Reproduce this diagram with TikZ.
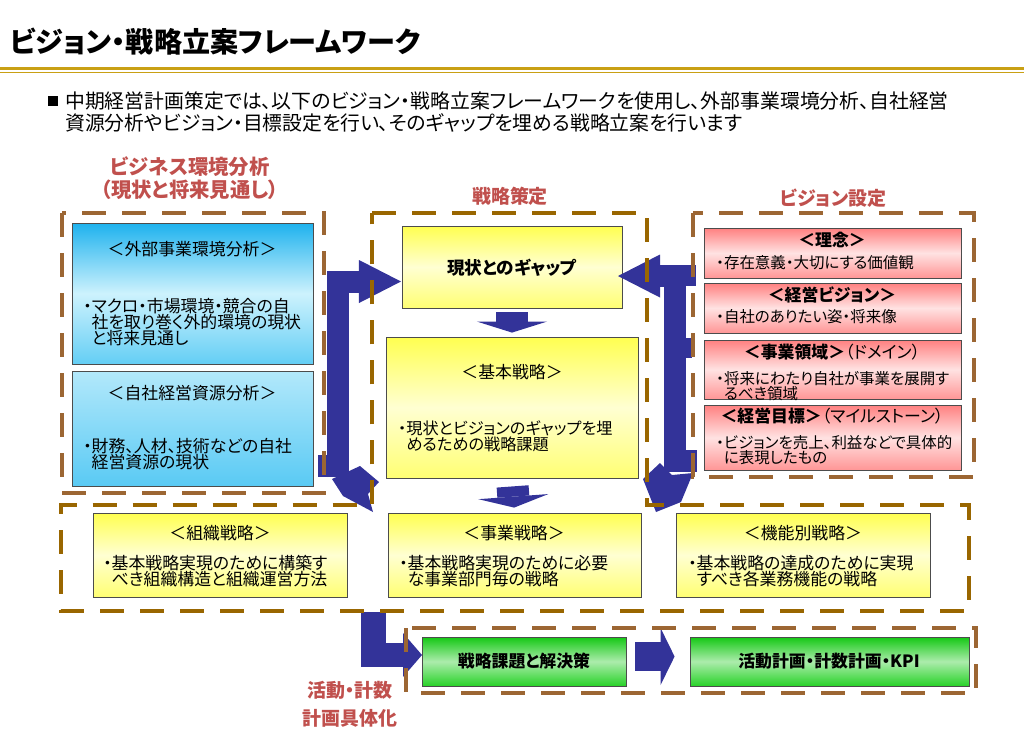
\documentclass[tikz,border=0pt]{standalone}
\usepackage{fontspec}
\setmainfont{Noto Sans CJK JP}[RawFeature=+palt]
\usetikzlibrary{arrows.meta, fit}

\definecolor{arrowblue}{RGB}{51,51,153}
\definecolor{goldline}{RGB}{201,160,20}
\definecolor{lightbrown}{RGB}{156,102,51}
\definecolor{darkbrown}{RGB}{153,102,0}
\definecolor{labelred}{RGB}{192,80,77}
\definecolor{blueA}{RGB}{30,178,238}
\definecolor{blueB}{RGB}{205,242,253}
\definecolor{blueC}{RGB}{100,206,245}
\definecolor{yellowA}{RGB}{255,255,80}
\definecolor{yellowB}{RGB}{255,255,210}
\definecolor{yellowC}{RGB}{255,255,115}
\definecolor{pinkA}{RGB}{255,128,128}
\definecolor{pinkB}{RGB}{255,226,226}
\definecolor{pinkC}{RGB}{255,150,150}
\definecolor{greenA}{RGB}{20,200,20}
\definecolor{greenB}{RGB}{172,236,172}
\definecolor{greenC}{RGB}{40,210,40}

\newcommand{\bulind}{\phantom{・}}

\begin{document}
\begin{tikzpicture}[x=0.025cm, y=-0.025cm,
	box/.style={draw=black!70, line width=0.6pt, inner sep=0pt},
	bluebox/.style={box, top color=blueA, bottom color=blueC, middle color=blueB},
	yellowbox/.style={box, top color=yellowA, bottom color=yellowC, middle color=yellowB},
	pinkbox/.style={box, top color=pinkA, bottom color=pinkC, middle color=pinkB},
	greenbox/.style={box, top color=greenA, bottom color=greenC, middle color=greenB},
	region/.style={line width=2.8pt, dash pattern=on 0.6cm off 0.4cm},
	redlabel/.style={text=labelred, align=center, inner sep=0pt, font=\fontsize{13.5}{16.4}\selectfont\bfseries},
	boxtitle/.style={inner sep=0pt, font=\fontsize{12}{14}\selectfont},
	boldtitle/.style={inner sep=0pt, font=\fontsize{12}{14}\selectfont\bfseries},
	bodytext/.style={anchor=north west, align=left, inner sep=0pt, font=\fontsize{12}{11.4}\selectfont},
	smalltext/.style={anchor=north west, align=left, inner sep=0pt, font=\fontsize{11}{10.6}\selectfont},
	bigarrow/.style={draw=arrowblue, line width=0.55cm, -{Triangle[length=1.05cm, width=1.075cm, line width=0pt]}},
	downarrow/.style={draw=arrowblue, line width=0.8cm, -{Triangle[length=0.275cm, width=1.75cm, line width=0pt]}},
	]
	\useasboundingbox (0,0) rectangle (1024,739);
	
	%header
	\node[anchor=west, inner sep=0pt, font=\fontsize{20}{24}\selectfont\bfseries] (title) at (10,42) {ビジョン・戦略立案フレームワーク};
	\draw[goldline, line width=2.8pt] (0,68.5) -- (1024,68.5);
	\draw[goldline, line width=1.1pt] (0,72.6) -- (1024,72.6);
	\fill (48,96) rectangle (58,106);
	\node[anchor=north west, align=left, inner sep=0pt, font=\fontsize{14.1}{15.6}\selectfont] (intro) at (65,91.5)
		{中期経営計画策定では、以下のビジョン・戦略立案フレームワークを使用し、外部事業環境分析、自社経営\\資源分析やビジョン・目標設定を行い、そのギャップを埋める戦略立案を行います};
	
	%boxes
	\node[bluebox, fit={(72,223) (313,364)}] (ext) {};
	\node[box, top color=blueB!85!blueA, bottom color=blueC!85!blueA, fit={(72,371) (313,486)}] (own) {};
	\node[yellowbox, fit={(402,226) (622,308)}] (gap) {};
	\node[yellowbox, fit={(386,337) (638,478)}] (base) {};
	\node[pinkbox, fit={(704,228) (961,278)}] (idea) {};
	\node[pinkbox, fit={(704,283) (961,333)}] (vision) {};
	\node[pinkbox, fit={(704,340) (961,399)}] (domain) {};
	\node[pinkbox, fit={(704,405) (961,470)}] (goal) {};
	\node[yellowbox, fit={(93,513) (347,597)}] (org) {};
	\node[yellowbox, fit={(388,513) (641,597)}] (biz) {};
	\node[yellowbox, fit={(676,513) (930,597)}] (func) {};
	\node[greenbox, fit={(422,637) (626,686)}] (task) {};
	\node[greenbox, fit={(690,637) (969,686)}] (plan) {};
	
	%arrows
	\coordinate (lbot) at (338,477);
	\coordinate (ltip) at (401,281.5);
	\coordinate (rbot) at (674.5,472);
	\coordinate (rtip) at (618,276);
	\coordinate (ltop) at (373.5,612);
	\coordinate (lend) at (422,655);
	\draw[bigarrow] (lbot) -- (lbot |- ltip) -- (ltip);
	\fill[arrowblue] (318,455) rectangle (338,477);
	\fill[arrowblue] (332,479) -- (360,466) -- (379,482) -- (368,494) -- (373,512) -- (343,496) -- cycle;
	\draw[bigarrow] (rbot) -- (rbot |- rtip) -- (rtip);
	\fill[arrowblue] (674,265) rectangle (696,286);
	\fill[arrowblue] (674,338) rectangle (692,358);
	\fill[arrowblue] (674,450) rectangle (697,472);
	\fill[arrowblue] (643,479) -- (660,463) -- (672,475) -- (693,473) -- (681,502) -- (656,512) -- cycle;
	\draw[downarrow, shorten <=0.1cm, shorten >=0.1cm] (gap.south) -- (base.north);
	\draw[downarrow, shorten <=0.2cm, shorten >=0.125cm] (base.south) -- (biz.north);
	\draw[draw=arrowblue, line width=0.62cm, -{Triangle[length=0.475cm, width=1.1cm, line width=0pt]}] (ltop) -- (ltop |- lend) -- (lend);
	\draw[draw=arrowblue, line width=0.725cm, -{Triangle[length=0.35cm, width=1.425cm, line width=0pt]}, shorten <=0.225cm, shorten >=0.375cm]
		([yshift=0.125cm]task.east) -- ([yshift=0.125cm]plan.west);
	
	%dashed areas
	\draw[region, lightbrown] (62,213) rectangle (324,493);
	\draw[region, darkbrown] (372,213) -- (647,213) -- (647,505) -- (969,505) -- (969,611) -- (61,611) -- (61,505) -- (372,505) -- cycle;
	\draw[region, lightbrown] (693,213) rectangle (974,477);
	\draw[region, lightbrown] (406,628) rectangle (976,693);
	
	%labels
	\node[redlabel, font=\fontsize{14.5}{16.4}\selectfont\bfseries] (envlbl) at (190,178.5) {ビジネス環境分析\\（現状と将来見通し）};
	\node[redlabel] (stratlbl) at (510,196) {戦略策定};
	\node[redlabel] (vislbl) at (833,198) {ビジョン設定};
	\node[redlabel, font=\fontsize{13.5}{20}\selectfont\bfseries] (actlbl) at (350,704) {活動・計数\\計画具体化};
	%
	\node[boxtitle] at (192,249) {＜外部事業環境分析＞};
	\node[bodytext] at (83,298) {・マクロ・市場環境・競合の自\\\bulind 社を取り巻く外的環境の現状\\\bulind と将来見通し};
	\node[boxtitle] at (192,393) {＜自社経営資源分析＞};
	\node[bodytext] at (83,438) {・財務、人材、技術などの自社\\\bulind 経営資源の現状};
	%
	\node[boldtitle, font=\fontsize{12.5}{14}\selectfont\bfseries] at (512,268) {現状とのギャップ};
	\node[boxtitle] at (512,372) {＜基本戦略＞};
	\node[bodytext, font=\fontsize{11.5}{11.4}\selectfont] at (398,420) {・現状とビジョンのギャップを埋\\\bulind めるための戦略課題};
	%
	\node[boldtitle] at (832,240) {＜理念＞};
	\node[smalltext] at (716,255) {・存在意義・大切にする価値観};
	\node[boldtitle] at (832,295) {＜経営ビジョン＞};
	\node[smalltext] at (716,309) {・自社のありたい姿・将来像};
	\node[boxtitle] at (832,352) {\textbf{＜事業領域＞}（ドメイン）};
	\node[smalltext] at (716,371) {・将来にわたり自社が事業を展開す\\\bulind るべき領域};
	\node[boxtitle] at (832,416) {\textbf{＜経営目標＞}（マイルストーン）};
	\node[smalltext] at (716,435) {・ビジョンを売上、利益などで具体的\\\bulind に表現したもの};
	%
	\node[boxtitle] at (220,533) {＜組織戦略＞};
	\node[bodytext] at (103,555) {・基本戦略実現のために構築す\\\bulind べき組織構造と組織運営方法};
	\node[boxtitle] at (514,533) {＜事業戦略＞};
	\node[bodytext] at (399,555) {・基本戦略実現のために必要\\\bulind な事業部門毎の戦略};
	\node[boxtitle] at (803,533) {＜機能別戦略＞};
	\node[bodytext] at (688,555) {・基本戦略の達成のために実現\\\bulind すべき各業務機能の戦略};
	%
	\node[boldtitle] at (524,661) {戦略課題と解決策};
	\node[boldtitle] at (829,661) {活動計画・計数計画・KPI};
\end{tikzpicture}
\end{document}
